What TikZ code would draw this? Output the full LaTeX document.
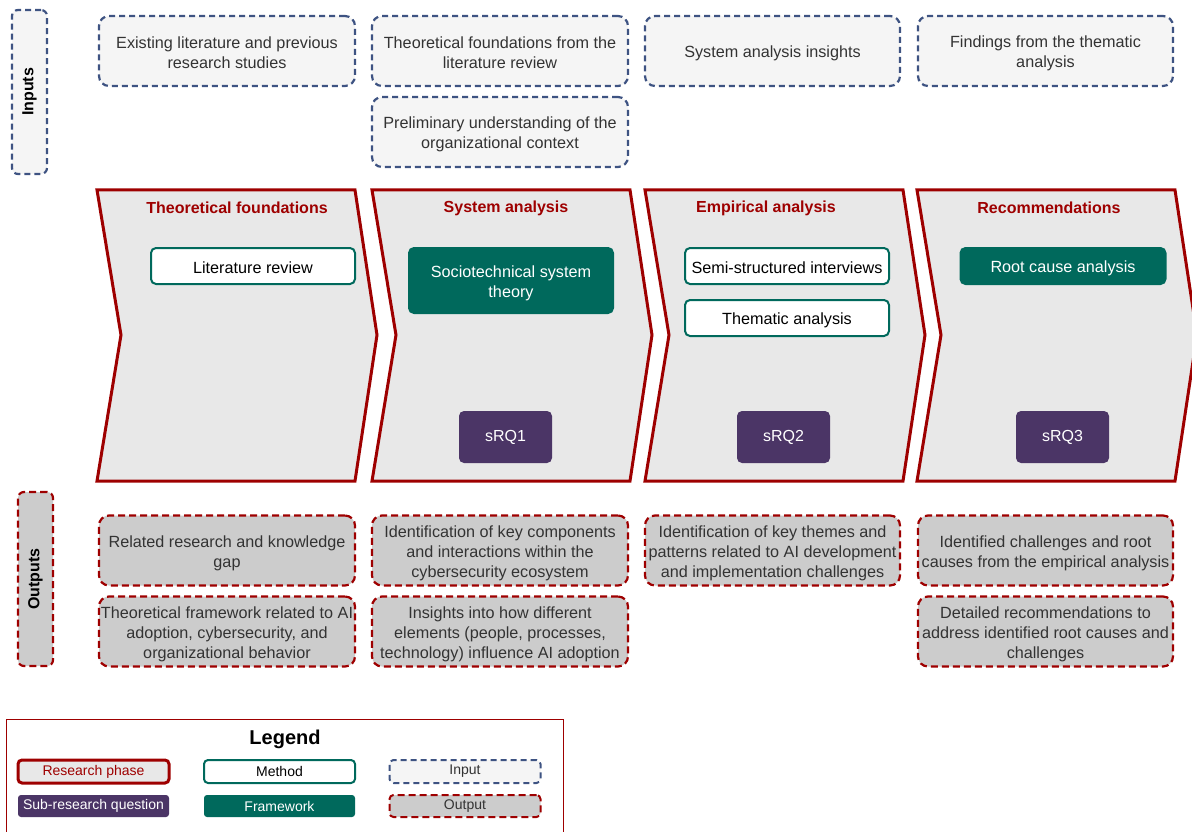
\documentclass[tikz,border=0pt]{standalone}
\usepackage{fontspec}
\setmainfont{Liberation Sans}
\definecolor{phasered}{HTML}{9E0000}
\definecolor{phasefill}{HTML}{E8E8E8}
\definecolor{infill}{HTML}{F5F5F5}
\definecolor{inborder}{HTML}{3E5382}
\definecolor{outfill}{HTML}{CCCCCC}
\definecolor{teal}{HTML}{00695C}
\definecolor{rqpurple}{HTML}{4B3566}
\definecolor{boxtext}{HTML}{333333}
% invisible struts that set a box's text a little below its centre
\newcommand{\instrut}{\rule{0pt}{15.5pt}}
\newcommand{\outstrut}{\rule{0pt}{18pt}}
\tikzset{
  phase/.style={draw=phasered, fill=phasefill, line width=3pt, line join=miter},
  phasetitle/.style={text=phasered, font=\fontsize{16}{20}\selectfont\bfseries},
  lowered/.style={execute at begin node={\rule{0pt}{15.5pt}}},
  inbox/.style={draw=inborder, fill=infill, line width=2.2pt, dash pattern=on 6pt off 4pt,
    rounded corners=10pt, minimum width=256pt, minimum height=70pt, inner sep=0pt,
    align=center, text=boxtext, font=\fontsize{16.2}{20}\selectfont, lowered},
  outbox/.style={inbox, draw=phasered, fill=outfill, dash pattern=on 7pt off 4pt},
  methodbox/.style={draw=teal, fill=white, line width=2pt, rounded corners=5pt,
    minimum width=204pt, minimum height=36pt, inner sep=0pt, align=center,
    font=\fontsize{16.2}{20}\selectfont, lowered},
  frameworkbox/.style={methodbox, fill=teal, text=white},
  rqbox/.style={fill=rqpurple, text=white, rounded corners=5pt, minimum width=93pt,
    minimum height=52pt, inner sep=0pt, font=\fontsize{16}{20}\selectfont},
  sidelabel/.style={draw=inborder, fill=infill, line width=2.2pt, dash pattern=on 6pt off 4pt,
    rounded corners=6pt, minimum width=35pt, inner sep=0pt,
    font=\fontsize{16}{20}\selectfont\bfseries, text=black},
  legbox/.style={minimum width=151pt, minimum height=23pt, inner sep=0pt,
    font=\fontsize{14}{16}\selectfont},
}
\newcommand{\chevron}[1]{%
  \path[phase] (#1,190) -- ++(258,0) -- ++(22,145) -- ++(-22,146) -- ++(-258,0)
    -- ++(24,-146) -- cycle;}
\begin{document}
\begin{tikzpicture}[x=1pt,y=-1pt]
\path[use as bounding box, clip] (0,0) rectangle (1192,832);

% research phases
\chevron{97}
\chevron{372}
\chevron{645}
\chevron{917}
\node[phasetitle] (t1) at (237,208) {Theoretical foundations};
\node[phasetitle] (t2) at (506,208) {System analysis};
\node[phasetitle] (t3) at (766,208) {Empirical analysis};
\node[phasetitle] (t4) at (1049,208) {Recommendations};

% methods and frameworks
\node[methodbox] (lit) at (253,266) {Literature review};
\node[frameworkbox, minimum height=65pt] (stst) at (511,280.5) {\outstrut Sociotechnical system\\theory};
\node[methodbox] (semi) at (787,266) {Semi-structured interviews};
\node[methodbox] (them) at (787,318) {Thematic analysis};
\node[frameworkbox, minimum width=205pt] (rca) at (1063,266) {Root cause analysis};

% sub-research questions
\node[rqbox] (rq1) at (505.5,437) {sRQ1};
\node[rqbox] (rq2) at (783.5,437) {sRQ2};
\node[rqbox] (rq3) at (1062.5,437) {sRQ3};

% inputs
\node[sidelabel, minimum height=164pt] (inl) at (29.5,92) {\rotatebox{90}{Inputs}};
\node[inbox] (in1) at (227,51) {\instrut Existing literature and previous\\research studies};
\node[inbox] (in2) at (500,51) {\instrut Theoretical foundations from the\\literature review};
\node[inbox] (in2b) at (500,132) {\instrut Preliminary understanding of the\\organizational context};
\node[inbox, minimum width=255pt] (in3) at (772.5,51) {System analysis insights};
\node[inbox, minimum width=255pt] (in4) at (1045.5,51) {\instrut Findings from the thematic\\analysis};

% outputs
\node[sidelabel, draw=phasered, fill=outfill, dash pattern=on 7pt off 4pt, minimum height=174pt] (outl) at (35.5,579) {\rotatebox{90}{Outputs}};
\node[outbox] (o1) at (227,550.5) {\outstrut Related research and knowledge\\gap};
\node[outbox] (o1b) at (227,631.5) {\outstrut Theoretical framework related to AI\\adoption, cybersecurity, and\\organizational behavior};
\node[outbox] (o2) at (500,550.5) {\outstrut Identification of key components\\and interactions within the\\cybersecurity ecosystem};
\node[outbox] (o2b) at (500,631.5) {\outstrut Insights into how different\\elements (people, processes,\\technology) influence AI adoption};
\node[outbox, minimum width=255pt] (o3) at (772.5,550.5) {\outstrut Identification of key themes and\\patterns related to AI development\\and implementation challenges};
\node[outbox, minimum width=255pt] (o4) at (1045.5,550.5) {\outstrut Identified challenges and root\\causes from the empirical analysis};
\node[outbox, minimum width=255pt] (o4b) at (1045.5,631.5) {\outstrut Detailed recommendations to\\address identified root causes and\\challenges};

% legend
\draw[phasered, line width=1pt] (6,719) rectangle (563,845);
\node[font=\fontsize{20}{24}\selectfont\bfseries] (legt) at (285,739) {Legend};
\node[legbox, draw=phasered, fill=phasefill, line width=3pt, rounded corners=4pt, text=phasered] (lg1) at (93.5,771.5) {Research phase};
\node[legbox, draw=teal, fill=white, line width=2pt, rounded corners=4pt] (lg2) at (279.5,771.5) {Method};
\node[legbox, draw=inborder, fill=infill, line width=2pt, dash pattern=on 6pt off 4pt, rounded corners=4pt, text=boxtext] (lg3) at (465,771.5) {Input};
\node[legbox, fill=rqpurple, text=white, rounded corners=3pt, minimum height=22pt] (lg4) at (93.5,806) {Sub-research question};
\node[legbox, fill=teal, text=white, rounded corners=3pt, minimum height=22pt] (lg5) at (279.5,806) {Framework};
\node[legbox, draw=phasered, fill=outfill, line width=2pt, dash pattern=on 7pt off 4pt, rounded corners=4pt, minimum height=22pt, text=boxtext] (lg6) at (465,806) {Output};
\end{tikzpicture}
\end{document}
